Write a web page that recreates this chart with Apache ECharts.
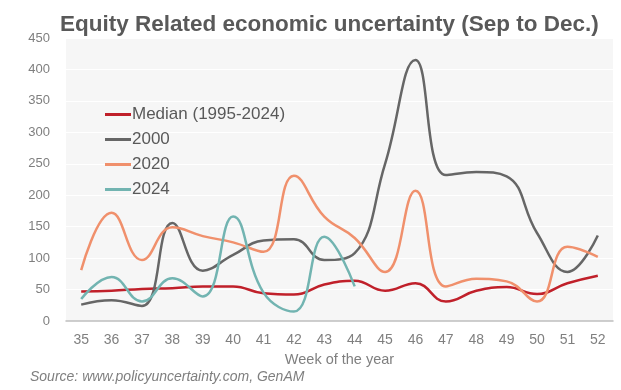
<!DOCTYPE html>
<html><head><meta charset="utf-8">
<script src="https://cdn.jsdelivr.net/npm/echarts@6/dist/echarts.min.js"></script>
<style>html,body{margin:0;padding:0;background:#fff}#c{width:621px;height:390px}</style>
</head><body><div id="c"></div>
<script>
const weeks = ['35','36','37','38','39','40','41','42','43','44','45','46','47','48','49','50','51','52'];
const median = [47, 48, 51, 52, 55, 55, 44, 42, 58, 64, 48, 60, 31, 48, 54, 43, 60, 72];
const y2000 = [26, 33, 24, 156, 80, 105, 128, 130, 97, 108, 250, 415, 232, 237, 230, 140, 78, 136];
const y2020 = [81, 172, 97, 149, 135, 125, 110, 231, 166, 132, 78, 207, 55, 67, 63, 31, 118, 102];
const y2024 = [35, 70, 31, 68, 39, 166, 45, 15, 134, 55];
const yTicks = [0, 50, 100, 150, 200, 250, 300, 350, 400, 450];

const font = 'Liberation Sans, Arial, sans-serif';
const chart = echarts.init(document.getElementById('c'));
function s(name, data, color) {
  return { name, type: 'line', data, smooth: 0.45, symbol: 'none',
    lineStyle: { color, width: 2.5 }, itemStyle: { color } };
}
chart.setOption({
  animation: false,
  textStyle: { fontFamily: font },
  title: { text: 'Equity Related economic uncertainty (Sep to Dec.)', left: 55, top: 8,
    textStyle: { fontSize: 22.5, fontWeight: 'bold', color: '#595959', fontFamily: font } },
  grid: { left: 66, right: 8, top: 38, bottom: 69, show: true, backgroundColor: '#f6f6f6', borderWidth: 0 },
  legend: { orient: 'vertical', left: 100, top: 101, itemGap: 8, icon: 'rect', itemWidth: 26, itemHeight: 3,
    textStyle: { fontSize: 17, color: '#595959', fontFamily: font, padding: [0,0,0,-4] },
    data: ['Median (1995-2024)', '2000', '2020', '2024'] },
  xAxis: { type: 'category', data: weeks, boundaryGap: true,
    name: 'Week of the year', nameLocation: 'middle', nameGap: 31,
    nameTextStyle: { fontSize: 14.5, color: '#7f7f7f' },
    axisLine: { lineStyle: { color: '#bfbfbf', width: 1.5 } }, axisTick: { show: false },
    axisLabel: { fontSize: 14, color: '#7f7f7f', margin: 12 } },
  yAxis: { type: 'value', min: 0, max: 450, interval: 50,
    axisLabel: { fontSize: 13, color: '#7f7f7f', margin: 16,
      formatter: v => yTicks.includes(v) ? String(v) : '' },
    axisLine: { show: false }, axisTick: { show: false },
    splitLine: { lineStyle: { color: '#ffffff', width: 1 } } },
  graphic: [{ type: 'text', left: 30, top: 370,
    style: { text: 'Source: www.policyuncertainty.com, GenAM', font: 'italic 14px ' + font, fill: '#7f7f7f' } }],
  series: [
    s('Median (1995-2024)', median, '#c0202a'),
    s('2000', y2000, '#666666'),
    s('2020', y2020, '#f0906c'),
    s('2024', y2024, '#72b4b1')
  ]
});
</script></body></html>
